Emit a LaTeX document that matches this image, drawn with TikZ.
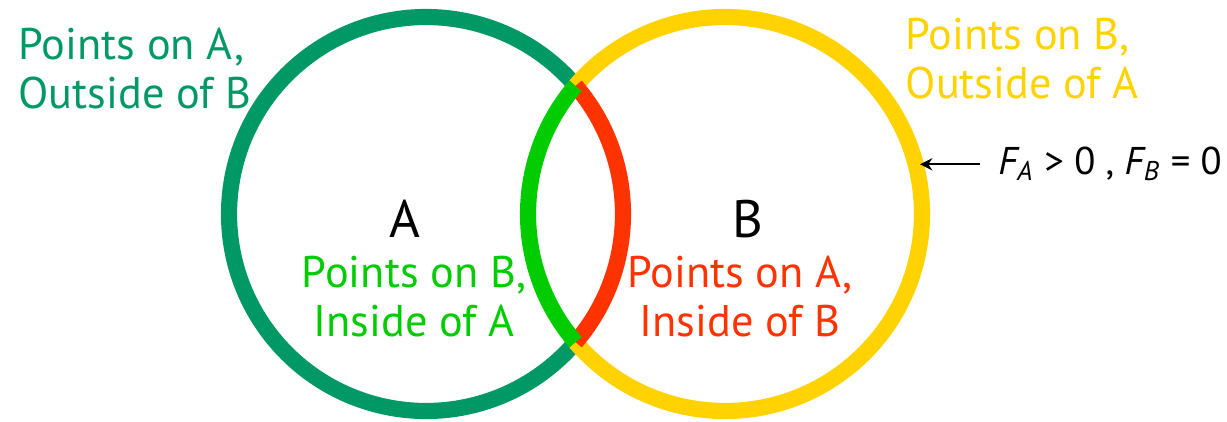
\documentclass[tikz,border=0pt]{standalone}
\usepackage{fontspec}
\setmainfont{PT Sans}
\usepackage{tikz}
\usetikzlibrary{arrows.meta,positioning}
\definecolor{vnteal}{HTML}{009966}
\definecolor{vngreen}{HTML}{00CC00}
\definecolor{vnred}{HTML}{FF3300}
\definecolor{vnyellow}{HTML}{FFD200}

\begin{document}
\begin{tikzpicture}[
    x=0.1mm, y=0.1mm,
    >={Stealth[length=3.5pt,width=3.5pt]},
    ring/.style={line width=4.6pt,line cap=butt},
    lbl/.style={inner sep=0pt,align=left,font=\fontsize{12.6}{14}\selectfont},
    ctr/.style={lbl,align=center},
    big/.style={inner sep=0pt,font=\fontsize{15}{18}\selectfont}]

  \useasboundingbox (0,0) rectangle (1227,421);

  % ---------------- the two rings, cut where they cross
  \draw[ring,vnteal]   (426,207) ++(40.6:197)  arc[start angle=40.6,end angle=319.4,radius=197];
  \draw[ring,vnyellow] (725,207) ++(-139.4:197) arc[start angle=-139.4,end angle=139.4,radius=197];
  \draw[ring,vnred]    (426,207) ++(-40.6:197) arc[start angle=-40.6,end angle=40.6,radius=197];
  \draw[ring,vngreen]  (725,207) ++(139.4:197)  arc[start angle=139.4,end angle=220.6,radius=197];

  % ---------------- names of the rings
  \node[big,anchor=base] (na) at (405,184) {A};
  \node[big,anchor=base] (nb) at (748,184) {B};

  % ---------------- the four parts
  \node[lbl,vnteal,anchor=north west] (oa) at (18,394) {Points on A,\\Outside of B};
  \node[lbl,vnyellow,anchor=north west] (ob) at (905,404) {Points on B,\\Outside of A};
  \node[ctr,vngreen,anchor=north] (ib) at (414,166) {Points on B,\\Inside of A};
  \node[ctr,vnred,anchor=north] (ia) at (740,166) {Points on A,\\Inside of B};

  % ---------------- the force on the outer part of B
  \coordinate (fb) at (920,258);
  \node[anchor=base west,inner xsep=5pt,font=\fontsize{11}{13}\selectfont] (fa) at (980,246)
       {{\itshape F}\textsubscript{\itshape A} > 0 , {\itshape F}\textsubscript{\itshape B} = 0};
  \draw[->,line width=0.6pt] (fa.west) -- (fa.west -| fb);
\end{tikzpicture}
\end{document}
